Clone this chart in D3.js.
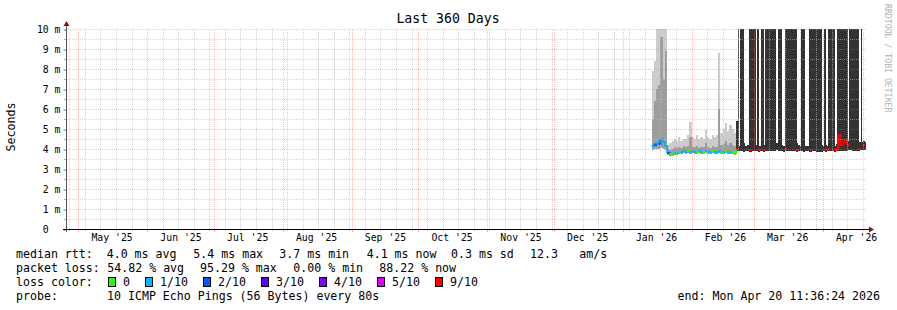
<!DOCTYPE html>
<html>
<head>
<meta charset="utf-8">
<title>Last 360 Days</title>
<script src="https://d3js.org/d3.v7.min.js"></script>
<style>
    body { margin: 0; background: #fff; }
    text { font-family: "DejaVu Sans Mono", monospace; fill: #000; }
</style>
</head>
<body>
<script>
// ---- data ----
const graphStart = new Date(2025, 3, 25, 11, 36, 24);
const graphEnd = new Date(2026, 3, 20, 11, 36, 24);
const firstDay = new Date(2026, 0, 14);   // first day with measurements, one value per day after it

// median rtt in ms
const medianRtt = [
    4.15, 4.2, 4.3, 4.25, 4.5, 4.35, 4.15,
    3.8, 3.75, 3.75, 3.8, 3.8, 3.85, 3.85, 3.9, 3.85, 3.9, 3.85,
    3.9, 3.85, 3.85, 3.9, 3.85, 3.85, 3.9, 3.85, 3.85, 3.9, 3.85, 3.85, 3.9, 3.85, 3.85, 3.9, 3.85, 3.85, 3.85, 3.8, 4.0,
    4.0, 4.0, 3.95, 4.0, 4.0, 3.95, 4.0,
    4.0, 4.0, 3.95, 4.0, 3.95, 4.0, 4.0, 4.0, 4.0, 4.0, 4.05,
    4.0, 4.0, 3.95, 4.0, 4.0, 4.0, 4.0, 4.0, 3.95, 4.0,
    4.0, 3.95, 4.0, 4.0, 3.95, 4.0, 4.0, 3.95, 4.0, 3.95,
    4.0, 3.95, 4.0, 4.0, 4.0, 3.95, 4.0, 4.7, 4.2, 4.35,
    4.45, 4.2, 4.05, 4.0, 4.0, 4.0, 4.0, 4.05, 4.2, 4.1
];
// pings lost out of 10
const lossLevel = [
    1, 2, 1, 2, 1, 1, 1,
    2, 0, 0, 1, 1, 0, 1, 1, 1, 0, 1,
    1, 1, 0, 1, 1, 0, 1, 1, 1, 0, 1, 1, 1, 0, 1, 0, 1, 1, 0, 0, 9,
    10, 10, 10, 10, 10, 9, 10,
    10, 10, 9, 10, 9, 10, 10, 10, 10, 10, 10,
    10, 10, 10, 9, 10, 10, 10, 10, 9, 10,
    10, 10, 10, 10, 9, 10, 10, 10, 10, 10,
    10, 9, 9, 10, 10, 9, 9, 9, 9, 9,
    9, 9, 10, 10, 10, 10, 9, 10, 9, 10
];
// smoke: lowest ping, upper edge of the inner band, highest ping (ms)
const smokeLow = [
    3.95, 4.0, 4.0, 4.0, 4.05, 4.0, 3.95,
    3.7, 3.65, 3.65, 3.7, 3.7, 3.75, 3.75, 3.8, 3.75, 3.8, 3.75,
    3.8, 3.75, 3.75, 3.8, 3.75, 3.75, 3.8, 3.75, 3.75, 3.8, 3.75, 3.75, 3.8, 3.75, 3.75, 3.8, 3.75, 3.75, 3.75, 3.7, 3.9,
    3.9, 3.9, 3.85, 3.9, 3.9, 3.85, 3.9,
    3.9, 3.9, 3.85, 3.9, 3.85, 3.9, 3.9, 3.9, 3.9, 3.9, 3.95,
    3.9, 3.9, 3.85, 3.9, 3.9, 3.9, 3.9, 3.9, 3.85, 3.9,
    3.9, 3.85, 3.9, 3.9, 3.85, 3.9, 3.9, 3.85, 3.9, 3.85,
    3.9, 3.85, 3.9, 3.9, 3.9, 3.85, 3.9, 3.95, 3.95, 3.95,
    3.95, 3.95, 3.95, 3.9, 3.9, 3.9, 3.9, 3.95, 3.95, 3.95
];
// inner band only exists until Feb 21
const smokeMid = [
    5.5, 6.4, 7.0, 7.2, 9.6, 7.5, 8.9,
    4.0, 3.95, 4.0, 4.1, 4.05, 4.1, 4.05, 4.15, 4.1, 4.15, 4.6,
    4.1, 4.1, 4.15, 4.05, 4.1, 4.1, 4.3, 4.1, 4.05, 4.15, 4.1, 4.1, 6.0, 4.2, 4.25, 4.4, 4.2, 4.3, 4.2, 4.15, null
];
const smokeHigh = [
    7.9, 8.4, 11, 11, 11, 11, 11,
    4.2, 4.3, 4.4, 4.5, 4.4, 4.6, 4.4, 4.5, 4.5, 4.7, 5.35,
    4.6, 4.5, 4.7, 4.5, 4.6, 4.5, 4.95, 4.6, 4.5, 4.7, 4.6, 4.7, 8.8, 4.8, 5.0, 5.3, 4.9, 5.2, 5.0, 4.8, 5.4,
    4.15, 4.2, 4.3, 4.15, 4.2, 4.15, 4.15,
    4.15, 4.2, 4.15, 4.15, 4.2, 4.15, 4.15, 4.2, 4.15, 4.15, 4.3,
    4.15, 4.2, 4.15, 4.15, 4.2, 4.15, 4.15, 4.6, 4.3, 4.2,
    4.15, 4.1, 4.15, 4.15, 4.2, 4.15, 4.2, 4.15, 4.15, 4.2,
    4.15, 4.2, 4.15, 4.15, 4.2, 4.15, 4.25, 4.9, 4.5, 4.6,
    4.65, 4.4, 4.2, 4.15, 4.15, 4.2, 4.35, 4.35, 4.4, 4.35
];
// periods where the smoke runs off the top of the graph
const overflowSpans = [
    ["2026-02-21 17:00", "2026-02-22 04:00"],
    ["2026-02-22 19:00", "2026-02-24 14:00"],
    ["2026-02-26 17:00", "2026-03-01 23:30"],
    ["2026-03-02 10:00", "2026-03-03 08:00"],
    ["2026-03-04 09:00", "2026-03-05 11:00"],
    ["2026-03-06 01:00", "2026-03-11 03:00"],
    ["2026-03-11 21:00", "2026-03-13 16:00"],
    ["2026-03-15 01:00", "2026-03-20 10:00"],
    ["2026-03-22 06:00", "2026-03-24 01:00"],
    ["2026-03-25 20:00", "2026-03-28 20:00"],
    ["2026-03-29 03:00", "2026-03-31 20:00"],
    ["2026-04-01 11:00", "2026-04-02 12:00"],
    ["2026-04-03 06:00", "2026-04-06 16:00"],
    ["2026-04-07 10:00", "2026-04-12 12:00"],
    ["2026-04-12 20:00", "2026-04-17 11:00"],
    ["2026-04-18 07:00", "2026-04-18 19:00"]
];

const yTicks = [0, 1, 2, 3, 4, 5, 6, 7, 8, 9, 10];
const lossLabels = ["0", "1/10", "2/10", "3/10", "4/10", "5/10", "9/10"];
const lossColors = ["#26ff00", "#00b8ff", "#0059ff", "#5e00ff", "#7e00ff", "#dd00ff", "#ff0000"];
const rttStats = ["4.0", "5.4", "3.7", "4.1"];
const statNames = ["avg", "max", "min", "now"];
const rttSd = "0.3";
const rttAmS = "12.3";
const lossStats = ["54.82", "95.29", "0.00", "88.22"];
const probeText = "10 ICMP Echo Pings (56 Bytes) every 80s";
const endText = "end: Mon Apr 20 11:36:24 2026";

// ---- setup ----
const WIDTH = 897, HEIGHT = 310;
const svg = d3.select("body").append("svg")
    .attr("width", WIDTH).attr("height", HEIGHT);

const x = d3.scaleTime().domain([graphStart, graphEnd]).range([66, 866]);
const y = d3.scaleLinear().domain([0, 10]).range([229, 29]);
const plotLeft = x.range()[0], plotRight = x.range()[1];

const parseTime = d3.timeParse("%Y-%m-%d %H:%M");
const days = medianRtt.map((m, i) => ({
    date: d3.timeDay.offset(firstDay, i),
    next: d3.timeDay.offset(firstDay, i + 1),
    median: m,
    loss: lossLevel[i],
    low: smokeLow[i],
    mid: smokeMid[i] == null ? null : smokeMid[i],
    high: smokeHigh[i]
}));

function lossColor(l) {
    if (l >= 9) return lossColors[6];
    if (l >= 5) return lossColors[5];
    return lossColors[l];
}

svg.append("defs").append("clipPath").attr("id", "plotclip")
    .append("rect")
    .attr("x", plotLeft).attr("y", y(10))
    .attr("width", plotRight - plotLeft).attr("height", y(0) - y(10));

const plot = svg.append("g").attr("clip-path", "url(#plotclip)");

// outer smoke
plot.selectAll(".smoke").data(days).join("rect")
    .attr("class", "smoke")
    .attr("x", d => x(d.date))
    .attr("width", d => x(d.next) - x(d.date))
    .attr("y", d => y(d.high))
    .attr("height", d => y(d.low) - y(d.high))
    .attr("fill", d => d.loss >= 9 ? "#333" : "#cccccc")
    .attr("shape-rendering", "crispEdges");

// inner smoke band
plot.selectAll(".smokemid").data(days.filter(d => d.mid != null && d.loss < 9)).join("rect")
    .attr("class", "smokemid")
    .attr("x", d => x(d.date))
    .attr("width", d => x(d.next) - x(d.date))
    .attr("y", d => y(d.mid))
    .attr("height", d => y(d.low) - y(d.mid))
    .attr("fill", "#9d9d9d")
    .attr("shape-rendering", "crispEdges");

// smoke running off the top
plot.selectAll(".overflow").data(overflowSpans).join("rect")
    .attr("class", "overflow")
    .attr("x", d => x(parseTime(d[0])))
    .attr("width", d => Math.max(1, x(parseTime(d[1])) - x(parseTime(d[0]))))
    .attr("y", y(10.5))
    .attr("height", d => {
        const day = days.find(v => v.date <= parseTime(d[0]) && v.next > parseTime(d[0]));
        return y(day ? day.low : 3.9) - y(10.5);
    })
    .attr("fill", "#333")
    .attr("shape-rendering", "crispEdges");

// median line coloured by loss
plot.selectAll(".median").data(days.filter(d => d.loss < 10)).join("path")
    .attr("class", "median")
    .attr("d", d => {
        const i = days.indexOf(d);
        let p = "M" + x(d.date) + "," + y(d.median) + "H" + x(d.next);
        if (days[i + 1] && days[i + 1].loss < 10) p += "V" + y(days[i + 1].median);
        return p;
    })
    .attr("fill", "none")
    .attr("stroke", d => lossColor(d.loss))
    .attr("stroke-width", 2);

// ---- grid on top ----
const grid = svg.append("g");
const months = d3.timeMonth.range(graphStart, graphEnd);
const weeks = d3.timeSunday.range(graphStart, graphEnd)
    .filter(w => !months.some(m => +m === +w));
const minorY = d3.range(0.5, 10.01, 0.5).filter(v => v % 1 !== 0);

const minorColor = "rgba(185,185,185,0.6)";
const majorColor = "rgba(240,110,110,0.42)";

grid.selectAll(".vminor").data(weeks).join("line")
    .attr("x1", d => Math.round(x(d)) + 0.5).attr("x2", d => Math.round(x(d)) + 0.5)
    .attr("y1", y(0)).attr("y2", y(10))
    .attr("stroke", minorColor).attr("stroke-dasharray", "1,1");
grid.selectAll(".hminor").data(minorY).join("line")
    .attr("x1", plotLeft).attr("x2", plotRight)
    .attr("y1", d => Math.round(y(d)) + 0.5).attr("y2", d => Math.round(y(d)) + 0.5)
    .attr("stroke", minorColor).attr("stroke-dasharray", "1,1");
grid.selectAll(".vmajor").data(months).join("line")
    .attr("x1", d => Math.round(x(d)) + 0.5).attr("x2", d => Math.round(x(d)) + 0.5)
    .attr("y1", y(0)).attr("y2", y(10))
    .attr("stroke", majorColor).attr("stroke-dasharray", "1,1");
grid.selectAll(".hmajor").data(yTicks.filter(v => v > 0)).join("line")
    .attr("x1", plotLeft).attr("x2", plotRight)
    .attr("y1", d => Math.round(y(d)) + 0.5).attr("y2", d => Math.round(y(d)) + 0.5)
    .attr("stroke", majorColor).attr("stroke-dasharray", "1,1");

// small ticks under the x axis
grid.selectAll(".xtminor").data(weeks).join("line")
    .attr("x1", d => Math.round(x(d)) + 0.5).attr("x2", d => Math.round(x(d)) + 0.5)
    .attr("y1", y(0)).attr("y2", y(0) + 2)
    .attr("stroke", "#bbb");
grid.selectAll(".xtmajor").data(months).join("line")
    .attr("x1", d => Math.round(x(d)) + 0.5).attr("x2", d => Math.round(x(d)) + 0.5)
    .attr("y1", y(0)).attr("y2", y(0) + 3)
    .attr("stroke", "#eaa");
grid.selectAll(".ytminor").data(minorY).join("line")
    .attr("x1", plotLeft - 2).attr("x2", plotLeft)
    .attr("y1", d => Math.round(y(d)) + 0.5).attr("y2", d => Math.round(y(d)) + 0.5)
    .attr("stroke", "#aaa");

// ---- axes ----
const yAxis = d3.axisLeft(y).tickValues(yTicks)
    .tickFormat(d => d === 0 ? "0\u00a0\u00a0" : d + " m")
    .tickSize(3).tickPadding(3);
const yG = svg.append("g").attr("transform", "translate(" + (plotLeft + 0.5) + ",0.5)").call(yAxis);
yG.select(".domain").remove();
yG.selectAll(".tick line").attr("stroke", "#777");
yG.selectAll("text").attr("font-family", "DejaVu Sans Mono").attr("font-size", 9.8).attr("fill", "#000");

const monthMid = months.map(m => d3.timeDay.offset(m, 15));
const xAxis = d3.axisBottom(x).tickValues(monthMid)
    .tickFormat(d3.timeFormat("%b '%y"))
    .tickSize(0).tickPadding(5);
const xG = svg.append("g").attr("transform", "translate(0," + y(0) + ")").call(xAxis);
xG.select(".domain").remove();
xG.selectAll("text").attr("font-family", "DejaVu Sans Mono").attr("font-size", 9.8).attr("fill", "#000");

// axis lines with arrows
svg.append("line")
    .attr("x1", plotLeft + 0.5).attr("x2", plotLeft + 0.5)
    .attr("y1", y(0) + 3).attr("y2", y(10) - 5)
    .attr("stroke", "#555");
svg.append("path")
    .attr("d", "M" + (plotLeft - 2.5) + "," + (y(10) - 3) + "L" + (plotLeft + 0.5) + "," + (y(10) - 8) + "L" + (plotLeft + 3.5) + "," + (y(10) - 3) + "Z")
    .attr("fill", "#8b1010");
svg.append("line")
    .attr("x1", plotLeft - 3).attr("x2", plotRight + 3)
    .attr("y1", y(0) + 0.5).attr("y2", y(0) + 0.5)
    .attr("stroke", "#000");
svg.append("path")
    .attr("d", "M" + (plotRight + 3) + "," + (y(0) - 2.5) + "L" + (plotRight + 8) + "," + (y(0) + 0.5) + "L" + (plotRight + 3) + "," + (y(0) + 3.5) + "Z")
    .attr("fill", "#8b1010");

// ---- titles ----
svg.append("text")
    .attr("x", 448).attr("y", 23)
    .attr("text-anchor", "middle")
    .attr("font-size", 13.2)
    .text("Last 360 Days");

svg.append("text")
    .attr("transform", "translate(15," + ((y(0) + y(10)) / 2 - 2) + ") rotate(-90)")
    .attr("text-anchor", "middle")
    .attr("font-size", 11.6)
    .text("Seconds");

svg.append("text")
    .attr("transform", "translate(885,4) rotate(90)")
    .attr("font-size", 8.2)
    .style("fill", "#b4b4b4")
    .text("RRDTOOL / TOBI OETIKER");

// ---- legend ----
const legend = svg.append("g").attr("font-size", 11.6);
const rowY = [258, 272, 286, 300];

legend.append("text").attr("x", 16).attr("y", rowY[0]).text("median rtt:");
const rttX = [106.7, 193.3, 279.3, 366.7];
rttStats.forEach((v, i) => {
    legend.append("text").attr("x", rttX[i]).attr("y", rowY[0]).text(v + " ms " + statNames[i]);
});
legend.append("text").attr("x", 451).attr("y", rowY[0]).text(rttSd + " ms sd");
legend.append("text").attr("x", 530).attr("y", rowY[0]).text(rttAmS);
legend.append("text").attr("x", 579.3).attr("y", rowY[0]).text("am/s");

legend.append("text").attr("x", 16).attr("y", rowY[1]).text("packet loss:");
const lossX = [107.3, 200, 293.3, 379.3];
lossStats.forEach((v, i) => {
    legend.append("text").attr("x", lossX[i]).attr("y", rowY[1]).text(v + " % " + statNames[i]);
});

legend.append("text").attr("x", 16).attr("y", rowY[2]).text("loss color:");
let lx = 108;
lossLabels.forEach((lab, i) => {
    legend.append("rect")
        .attr("x", lx + 0.5).attr("y", rowY[2] - 8.5)
        .attr("width", 7).attr("height", 9)
        .attr("fill", lossColors[i]).attr("stroke", "#000");
    legend.append("text").attr("x", lx + 15).attr("y", rowY[2]).text(lab);
    lx += 15 + lab.length * 7 + 15;
});

legend.append("text").attr("x", 16).attr("y", rowY[3]).text("probe:");
legend.append("text").attr("x", 107).attr("y", rowY[3]).text(probeText);
legend.append("text").attr("x", 880).attr("y", rowY[3]).attr("text-anchor", "end").text(endText);
</script>
</body>
</html>
